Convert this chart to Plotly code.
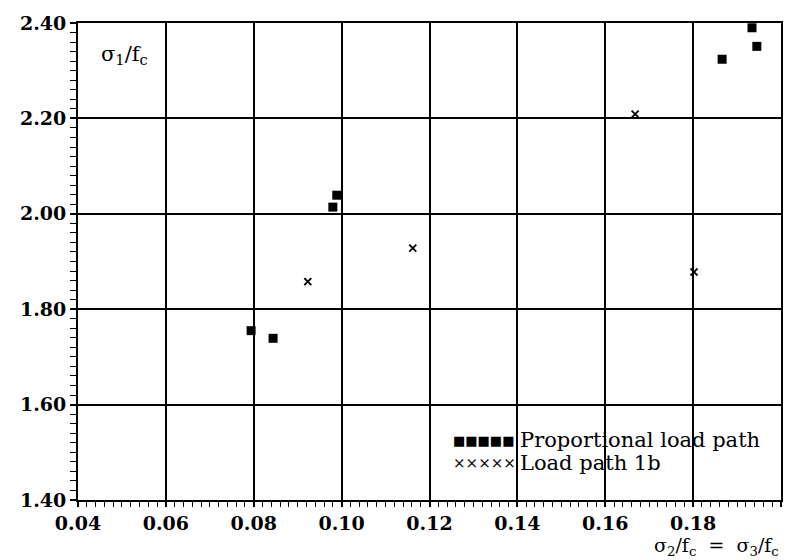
import plotly.graph_objects as go

# Proportional load path (filled squares)
prop_x = [0.0794, 0.0844, 0.0980, 0.0989, 0.1866, 0.1934, 0.1945]
prop_y = [1.755, 1.739, 2.014, 2.039, 2.324, 2.390, 2.351]

# Load path 1b (crosses)
lp1b_x = [0.0923, 0.1162, 0.1668, 0.1802]
lp1b_y = [1.858, 1.928, 2.209, 1.878]

x_ticks = [0.04, 0.06, 0.08, 0.10, 0.12, 0.14, 0.16, 0.18, 0.20]
x_tick_labels = ["0.04", "0.06", "0.08", "0.10", "0.12", "0.14", "0.16", "0.18", "0.20"]
y_ticks = [1.40, 1.60, 1.80, 2.00, 2.20, 2.40]
y_tick_labels = ["1.40", "1.60", "1.80", "2.00", "2.20", "2.40"]

legend_names = ["Proportional load path", "Load path 1b"]

FONT = "DejaVu Serif"

fig = go.Figure()
fig.add_trace(go.Scatter(x=prop_x, y=prop_y, mode="markers", name=legend_names[0],
                         marker=dict(symbol="square", size=9, color="black"),
                         showlegend=False))
fig.add_trace(go.Scatter(x=lp1b_x, y=lp1b_y, mode="markers", name=legend_names[1],
                         marker=dict(symbol="x-thin", size=7, color="black",
                                     line=dict(width=1.8, color="black")),
                         showlegend=False))

fig.update_layout(
    width=803, height=560,
    margin=dict(l=78, r=22, t=14, b=60),
    paper_bgcolor="white", plot_bgcolor="white",
    font=dict(family=FONT, color="black"),
    xaxis=dict(range=[0.04, 0.20], tickvals=x_ticks, ticktext=x_tick_labels,
               showgrid=True, gridcolor="black", gridwidth=2,
               showline=True, linecolor="black", linewidth=2, mirror=True,
               ticks="outside", ticklen=5, tickwidth=1.5, tickcolor="black",
               minor=dict(dtick=0.002, ticks="outside", ticklen=5, tickwidth=1.2,
                          tickcolor="black", showgrid=False),
               tickfont=dict(family=FONT, size=19, weight="bold"),
               zeroline=False),
    yaxis=dict(range=[1.40, 2.40], tickvals=y_ticks, ticktext=y_tick_labels,
               showgrid=True, gridcolor="black", gridwidth=2,
               showline=True, linecolor="black", linewidth=2, mirror=True,
               ticks="outside", ticklen=6, tickwidth=1.5, tickcolor="black",
               minor=dict(dtick=0.02, ticks="outside", ticklen=6, tickwidth=1.2,
                          tickcolor="black", showgrid=False),
               tickfont=dict(family=FONT, size=19, weight="bold"),
               zeroline=False),
)

fig.add_annotation(xref="paper", yref="paper", x=0.03, y=0.965,
                   xanchor="left", yanchor="top", showarrow=False,
                   text="σ<sub>1</sub>/f<sub>c</sub>",
                   font=dict(family=FONT, size=21))
fig.add_annotation(xref="paper", yref="paper", x=1.0, y=-0.098,
                   xanchor="right", yanchor="middle", showarrow=False,
                   text="σ<sub>2</sub>/f<sub>c</sub>  =  σ<sub>3</sub>/f<sub>c</sub>",
                   font=dict(family=FONT, size=19))

# legend drawn as text, as in the reference (five symbols then the label)
leg_x_sym = (451 - 78) / 703
leg_x_txt = (518 - 78) / 703
leg_y1 = (500 - 439) / 486
leg_y2 = (500 - 462) / 486
fig.add_annotation(xref="paper", yref="paper", x=leg_x_sym, y=leg_y1,
                   xanchor="left", yanchor="middle", showarrow=False,
                   text="■■■■■", font=dict(family=FONT, size=13))
fig.add_annotation(xref="paper", yref="paper", x=leg_x_txt, y=leg_y1,
                   xanchor="left", yanchor="middle", showarrow=False,
                   text=legend_names[0], font=dict(family=FONT, size=21))
fig.add_annotation(xref="paper", yref="paper", x=leg_x_sym, y=leg_y2,
                   xanchor="left", yanchor="middle", showarrow=False,
                   text="×××××", font=dict(family=FONT, size=15))
fig.add_annotation(xref="paper", yref="paper", x=leg_x_txt, y=leg_y2,
                   xanchor="left", yanchor="middle", showarrow=False,
                   text=legend_names[1], font=dict(family=FONT, size=21))

fig.write_html("out.html")
